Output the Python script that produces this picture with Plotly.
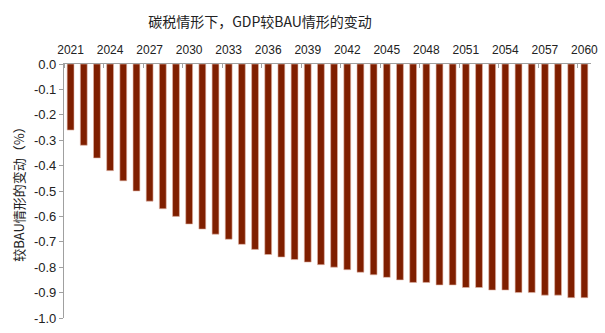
import plotly.graph_objects as go

# GDP change vs. BAU scenario under a carbon tax, 2021-2060 (%)
years = list(range(2021, 2061))
gdp_change = [
    -0.26, -0.32, -0.37, -0.42, -0.46, -0.50, -0.54, -0.57, -0.60, -0.63,
    -0.65, -0.67, -0.69, -0.71, -0.73, -0.75, -0.76, -0.77, -0.78, -0.79,
    -0.80, -0.81, -0.82, -0.83, -0.84, -0.85, -0.86, -0.86, -0.87, -0.87,
    -0.88, -0.88, -0.89, -0.89, -0.90, -0.90, -0.91, -0.91, -0.92, -0.92,
]
x_tick_years = list(range(2021, 2061, 3))
y_ticks = [0.0, -0.1, -0.2, -0.3, -0.4, -0.5, -0.6, -0.7, -0.8, -0.9, -1.0]
y_tick_text = ["0.0", "-0.1", "-0.2", "-0.3", "-0.4", "-0.5",
               "-0.6", "-0.7", "-0.8", "-0.9", "-1.0"]

bar_color = "#7F1F00"
axis_gray = "#A0A0A0"
text_color = "#222222"
font_family = "Noto Sans CJK SC, Liberation Sans, sans-serif"

fig = go.Figure(
    go.Bar(
        x=years,
        y=gdp_change,
        width=0.52,
        marker=dict(color=bar_color, line=dict(color="#E3B7A8", width=0.6)),
    )
)

fig.update_layout(
    width=605,
    height=333,
    margin=dict(l=64, r=7, t=64, b=8),
    paper_bgcolor="white",
    plot_bgcolor="white",
    showlegend=False,
    font=dict(family=font_family, color=text_color, size=12),
    title=dict(
        text="碳税情形下，GDP较BAU情形的变动",
        x=260 / 605,
        xanchor="center",
        y=1 - 22 / 333,
        yanchor="middle",
        font=dict(size=14, color=text_color, family=font_family),
    ),
)

fig.update_xaxes(
    side="top",
    range=[2020.5, 2060.5],
    tickmode="array",
    tickvals=x_tick_years,
    ticktext=[str(y) for y in x_tick_years],
    ticks="",
    ticklabelstandoff=4,
    tickfont=dict(size=12, family="Liberation Sans Narrow, Liberation Sans, sans-serif"),
    showline=True,
    linecolor=axis_gray,
    linewidth=1.2,
    showgrid=False,
    zeroline=False,
    minor=dict(tick0=2020.5, dtick=3, ticks="inside", ticklen=4,
               tickcolor=axis_gray, tickwidth=1, showgrid=False),
)

fig.update_yaxes(
    range=[-1.0, 0.0],
    tickmode="array",
    tickvals=y_ticks,
    ticktext=y_tick_text,
    ticks="outside",
    ticklen=4,
    tickcolor=axis_gray,
    tickfont=dict(size=13, family="Liberation Sans, sans-serif"),
    showline=True,
    linecolor=axis_gray,
    linewidth=1.2,
    showgrid=False,
    zeroline=False,
    title=dict(text="较BAU情形的变动（%）", standoff=6,
               font=dict(size=13, family=font_family, color=text_color)),
)

fig.write_html("out.html")
